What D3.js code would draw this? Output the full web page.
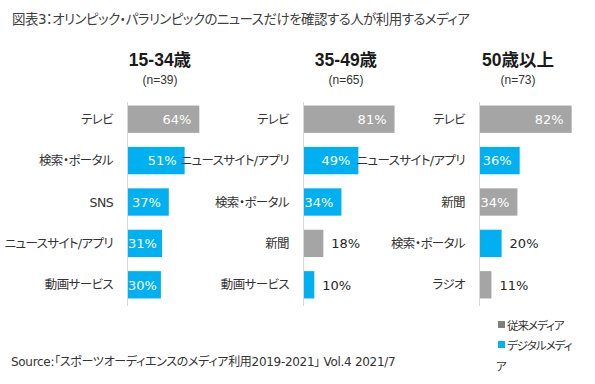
<!DOCTYPE html>
<html>
<head>
<meta charset="utf-8">
<script src="https://cdn.jsdelivr.net/npm/d3@7"></script>
<style>
    body { margin: 0; background: #fff; }
    svg text { font-family: "DejaVu Sans", "Noto Sans CJK JP", sans-serif; font-feature-settings: "palt"; }
    svg text.head { font-family: "Liberation Sans", Arial, "Noto Sans CJK JP", sans-serif; }
</style>
</head>
<body>
<svg id="chart" width="595" height="384"></svg>
<script>
// data
const titleText = "図表3：オリンピック・パラリンピックのニュースだけを確認する人が利用するメディア";
const sourceText = "Source:「スポーツオーディエンスのメディア利用2019-2021」 Vol.4 2021/7";
const groupNames = ["15-34歳", "35-49歳", "50歳以上"];
const groupN = ["(n=39)", "(n=65)", "(n=73)"];

const cats1 = ["テレビ", "検索・ポータル", "SNS", "ニュースサイト/アプリ", "動画サービス"];
const vals1 = [64, 51, 37, 31, 30];
const kind1 = ["trad", "digi", "digi", "digi", "digi"];

const cats2 = ["テレビ", "ニュースサイト/アプリ", "検索・ポータル", "新聞", "動画サービス"];
const vals2 = [81, 49, 34, 18, 10];
const kind2 = ["trad", "digi", "digi", "trad", "digi"];

const cats3 = ["テレビ", "ニュースサイト/アプリ", "新聞", "検索・ポータル", "ラジオ"];
const vals3 = [82, 36, 34, 20, 11];
const kind3 = ["trad", "digi", "trad", "digi", "trad"];

const legendLabels = ["従来メディア", "デジタルメディア"];

const cfg = {
    axisX: [127, 303, 479],
    headX: [160, 346, 518],
    barMax: 113,
    top: 98.5,
    bottom: 305.5,
    colors: { trad: "#a5a5a5", digi: "#00b0f0" },
    text: "#333333",
};

const svg = d3.select("#chart");

svg.append("text")
    .attr("x", 12)
    .attr("y", 24)
    .attr("font-size", 13.5)
    .attr("letter-spacing", -0.55)
    .attr("fill", "#404040")
    .text(titleText);

const x = d3.scaleLinear().domain([0, 100]).range([0, cfg.barMax]);
const y = d3.scaleBand()
    .domain(d3.range(5))
    .range([cfg.top, cfg.bottom])
    .paddingInner(0.34)
    .paddingOuter(0.17);

const panels = [
    { cats: cats1, vals: vals1, kind: kind1 },
    { cats: cats2, vals: vals2, kind: kind2 },
    { cats: cats3, vals: vals3, kind: kind3 },
];

panels.forEach((p, pi) => {
    var x0 = cfg.axisX[pi];
    var g = svg.append("g");

    // header
    g.append("text")
        .attr("class", "head")
        .attr("x", cfg.headX[pi])
        .attr("y", 66)
        .attr("text-anchor", "middle")
        .attr("font-size", 17.5)
        .attr("font-weight", "bold")
        .attr("fill", "#1a1a1a")
        .text(groupNames[pi]);
    g.append("text")
        .attr("class", "head")
        .attr("x", cfg.headX[pi])
        .attr("y", 84)
        .attr("text-anchor", "middle")
        .attr("font-size", 12)
        .attr("fill", "#333")
        .text(groupN[pi]);

    // bars
    p.vals.forEach((v, i) => {
        var w = x(v);
        var yy = y(i);
        var h = y.bandwidth();
        g.append("rect")
            .attr("x", x0)
            .attr("y", yy)
            .attr("width", w)
            .attr("height", h)
            .attr("fill", cfg.colors[p.kind[i]]);

        g.append("text")
            .attr("x", x0 - 14)
            .attr("y", yy + h / 2 + 4.5)
            .attr("text-anchor", "end")
            .attr("font-size", 12.5)
            .attr("letter-spacing", -0.6)
            .attr("fill", cfg.text)
            .text(p.cats[i]);

        var lbl = g.append("text")
            .attr("y", yy + h / 2 + 4.7)
            .attr("font-size", 13)
            .text(v + "%");
        var tw = lbl.node().getComputedTextLength();
        if (w >= 30) {
            var sx = Math.max(x0 + 1, x0 + w - 8 - tw);
            lbl.attr("x", sx).attr("fill", "#ffffff");
        } else {
            lbl.attr("x", x0 + w + 8).attr("fill", "#262626");
        }
    });

    // axis line
    g.append("line")
        .attr("x1", x0 + 0.5)
        .attr("x2", x0 + 0.5)
        .attr("y1", 102)
        .attr("y2", 306)
        .attr("stroke", "#d9d9d9")
        .attr("stroke-width", 1);
});

// legend
var lg = svg.append("g").attr("font-size", 11.5).attr("letter-spacing", -1).attr("fill", "#333");
lg.append("rect").attr("x", 498).attr("y", 321).attr("width", 7).attr("height", 7).attr("fill", "#7f7f7f");
lg.append("text").attr("x", 507).attr("y", 330).text(legendLabels[0]);
lg.append("rect").attr("x", 498).attr("y", 341).attr("width", 7).attr("height", 7).attr("fill", cfg.colors.digi);
// wraps in the original text box
var l2 = legendLabels[1];
lg.append("text").attr("x", 507).attr("y", 350).text(l2.slice(0, -1));
lg.append("text").attr("x", 496).attr("y", 371).text(l2.slice(-1));

svg.append("text")
    .attr("x", 11)
    .attr("y", 366)
    .attr("font-size", 12)
    .attr("letter-spacing", -0.3)
    .attr("fill", "#333")
    .text(sourceText);
</script>
</body>
</html>
